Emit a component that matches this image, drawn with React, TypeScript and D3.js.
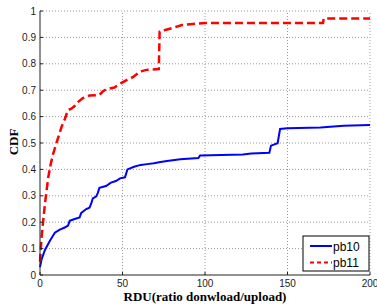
import React from 'react'
import * as d3 from 'd3'

// RDU values
const pb10X = [0, 1, 3, 6, 9, 12, 15, 17, 18, 21, 24, 25, 28, 30, 31, 32, 34, 35, 36, 40, 43, 46, 48.5, 51.5, 53, 57, 61, 65, 69, 73, 77, 85, 96, 97, 110, 123, 128, 139, 140, 144, 145.5, 150, 170, 184, 200]
const pb10Y = [0.03, 0.06, 0.095, 0.13, 0.16, 0.172, 0.18, 0.187, 0.205, 0.212, 0.218, 0.235, 0.25, 0.255, 0.27, 0.29, 0.297, 0.31, 0.33, 0.337, 0.35, 0.356, 0.366, 0.37, 0.4, 0.41, 0.417, 0.42, 0.423, 0.428, 0.432, 0.438, 0.443, 0.453, 0.455, 0.456, 0.46, 0.463, 0.49, 0.499, 0.553, 0.556, 0.559, 0.565, 0.568]

const pb11X = [0, 0.5, 1, 2, 3, 4, 5, 6.5, 8, 9.5, 11, 13, 15, 17, 19, 21, 23, 26, 30, 36, 38, 40, 45, 49.5, 53, 56.5, 60.5, 64.5, 72, 72.5, 77, 81, 86, 91, 100, 171.5, 172, 200]
const pb11Y = [0.05, 0.1, 0.145, 0.21, 0.27, 0.32, 0.37, 0.42, 0.46, 0.49, 0.52, 0.56, 0.59, 0.625, 0.63, 0.64, 0.655, 0.67, 0.68, 0.682, 0.695, 0.703, 0.71, 0.728, 0.74, 0.75, 0.77, 0.777, 0.78, 0.922, 0.93, 0.937, 0.947, 0.95, 0.955, 0.955, 0.972, 0.972]

const xTicks = [0, 50, 100, 150, 200]
const yTicks = [0, 0.1, 0.2, 0.3, 0.4, 0.5, 0.6, 0.7, 0.8, 0.9, 1]
const seriesNames = ['pb10', 'pb11']

const W = 377
const H = 306
const m = { left: 40, right: 7, top: 11, bottom: 31 }

export default function App() {
  const x = d3.scaleLinear().domain([0, 200]).range([m.left, W - m.right])
  const y = d3.scaleLinear().domain([0, 1]).range([H - m.bottom, m.top])

  const line = d3.line<[number, number]>()
    .x(d => x(d[0]))
    .y(d => y(d[1]))

  const blue = line(pb10X.map((v, i) => [v, pb10Y[i]] as [number, number])) || ''
  const red = line(pb11X.map((v, i) => [v, pb11Y[i]] as [number, number])) || ''

  const tickFont = 'Arial, "Liberation Sans", sans-serif'
  const labelFont = '"Times New Roman", "Liberation Serif", serif'

  return (
    <svg width={W} height={H} style={{ position: 'absolute', left: 0, top: 0, background: '#fff' }}>
      {/* grid */}
      <g stroke="#999" strokeWidth={1} strokeDasharray="1,2">
        {xTicks.slice(1).map(t => (
          <line key={'gx' + t} x1={x(t)} x2={x(t)} y1={y(0)} y2={y(1)} />
        ))}
        {yTicks.slice(1).map(t => (
          <line key={'gy' + t} x1={x(0)} x2={x(200)} y1={y(t)} y2={y(t)} />
        ))}
      </g>

      {/* curves */}
      <path d={blue} fill="none" stroke="#0000ff" strokeWidth={2} />
      <path d={red} fill="none" stroke="#ff0000" strokeWidth={2.5} strokeDasharray="8,4" />

      {/* axes */}
      <g stroke="#222" strokeWidth={1}>
        <line x1={x(0)} x2={x(0)} y1={y(0)} y2={y(1)} />
        <line x1={x(0)} x2={x(200)} y1={y(0)} y2={y(0)} />
        {yTicks.map(t => (
          <line key={'ty' + t} x1={x(0)} x2={x(0) + 3} y1={y(t)} y2={y(t)} />
        ))}
        {xTicks.map(t => (
          <line key={'tx' + t} x1={x(t)} x2={x(t)} y1={y(0)} y2={y(0) - 3} />
        ))}
      </g>

      <g fontFamily={tickFont} fontSize={10} fill="#222">
        {yTicks.map(t => (
          <text key={'ly' + t} x={x(0) - 4} y={y(t)} dy="0.35em" textAnchor="end">{String(t)}</text>
        ))}
        {xTicks.map(t => (
          <text key={'lx' + t} x={x(t)} y={y(0) + 12} textAnchor="middle">{String(t)}</text>
        ))}
      </g>

      <text x={205} y={301} textAnchor="middle" fontFamily={labelFont} fontWeight="bold" fontSize={13}>
        RDU(ratio donwload/upload)
      </text>
      <text transform="translate(18,142) rotate(-90)" textAnchor="middle" fontFamily={labelFont} fontWeight="bold" fontSize={13}>
        CDF
      </text>

      {/* legend */}
      <g>
        <rect x={303} y={236} width={66} height={35} fill="#fff" stroke="#000" strokeWidth={1} />
        <line x1={310} x2={332} y1={246} y2={246} stroke="#0000ff" strokeWidth={2} />
        <line x1={310} x2={332} y1={262.5} y2={262.5} stroke="#ff0000" strokeWidth={2} strokeDasharray="4,3" />
        <text x={333} y={250.5} fontFamily={tickFont} fontSize={12}>{seriesNames[0]}</text>
        <text x={333} y={267} fontFamily={tickFont} fontSize={12}>{seriesNames[1]}</text>
      </g>
    </svg>
  )
}
